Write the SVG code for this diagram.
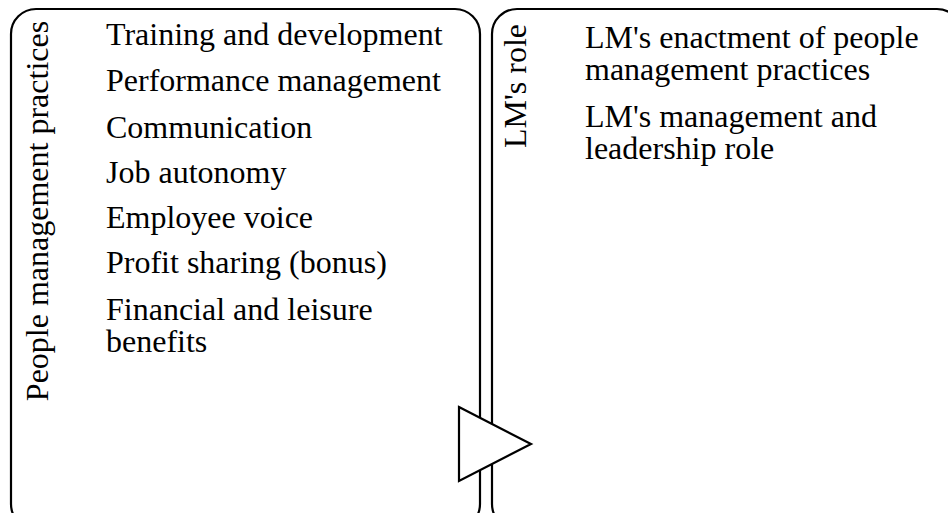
<svg xmlns="http://www.w3.org/2000/svg" width="948" height="513" viewBox="0 0 948 513">
<style>
.box{fill:#fff;stroke:#000;stroke-width:2.2}
text{font-family:'Liberation Serif','Times New Roman',Times,serif;font-size:32px;fill:#000}
.arrow{fill:#fff;stroke:#000;stroke-width:2.2;stroke-linejoin:miter}
</style>
<rect width="948" height="513" fill="#fff"/>
<g id="practices">
<rect class="box" x="11" y="9" width="469" height="520" rx="25" ry="25"/>
<text transform="translate(48,211) rotate(-90)" text-anchor="middle">People management practices</text>
<text x="106" y="45">Training and development</text>
<text x="106" y="91">Performance management</text>
<text x="106" y="138">Communication</text>
<text x="106" y="183">Job autonomy</text>
<text x="106" y="228">Employee voice</text>
<text x="106" y="273">Profit sharing (bonus)</text>
<text x="106" y="320">Financial and leisure<tspan x="106" dy="32">benefits</tspan></text>
</g>
<g id="lmrole">
<rect class="box" x="492" y="9" width="470" height="520" rx="25" ry="25"/>
<text transform="translate(526,86) rotate(-90)" text-anchor="middle">LM's role</text>
<text x="585" y="48">LM's enactment of people<tspan x="585" dy="32">management practices</tspan></text>
<text x="585" y="127">LM's management and<tspan x="585" dy="32">leadership role</tspan></text>
</g>
<g id="connectors">
<polygon class="arrow" points="459,407 531,444 459,481"/>
</g>
</svg>
